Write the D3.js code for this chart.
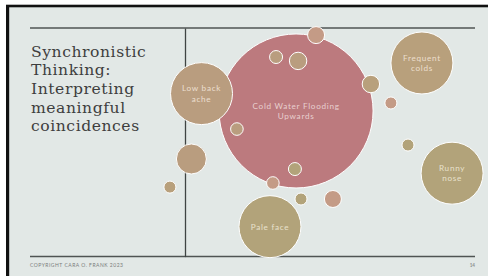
<!DOCTYPE html>
<html>
<head>
<meta charset="utf-8">
<script src="https://cdn.jsdelivr.net/npm/d3@7"></script>
<style>
  html, body { margin: 0; padding: 0; background: #ffffff; }
  svg { display: block; }
</style>
</head>
<body>
<svg id="chart" width="488" height="276"></svg>
<script>
// ---- Data ----
const titleLines = ["Synchronistic", "Thinking:", "Interpreting", "meaningful", "coincidences"];
const footerText = "COPYRIGHT CARA O. FRANK 2023";
const pageNumber = "14";

const bubbleLabels = [
  "Cold Water Flooding\nUpwards", "Low back\nache", "Frequent\ncolds", "Runny\nnose", "Pale face",
  "", "", "", "", "", "", "", "", "", "", "", "", ""
];
const xValues = [38.3, 5.7, 81.7, 92.1, 29.3,
  45.2, 31.4, 39.0, 64.1, 71.0, 17.9, 2.2, -5.2, 37.9, 30.3, 40.0, 51.0, 76.9];
const yValues = [63.7, 71.3, 84.7, 36.5, 13.1,
  96.9, 87.3, 85.6, 75.5, 67.2, 55.8, 42.7, 30.4, 38.3, 32.2, 25.2, 25.2, 48.8];
const sizeValues = [100, 16.2, 16.2, 16.2, 16.2,
  1.22, 0.71, 1.28, 1.28, 0.61, 0.67, 3.8, 0.61, 0.71, 0.67, 0.61, 1.22, 0.61];
const groupValues = ["rose", "sand", "wheat", "olive", "olive",
  "blush", "sand", "sand", "wheat", "blush", "sand", "sand", "wheat", "olive", "blush", "olive", "blush", "olive"];

const groupNames = ["rose", "sand", "wheat", "olive", "blush"];
const groupColors = ["#bc7a7e", "#b99d7f", "#b8a07c", "#b2a37a", "#c49b86"];
const labelColors = ["#e8cfcf", "#ecdfcf", "#ecdfcc", "#e8e1cc", "#ecdfcf"];

// ---- Build ----
const svg = d3.select("#chart");
const W = 488, H = 276;

// frame
svg.append("rect").attr("x", 0).attr("y", 0).attr("width", W).attr("height", H).attr("fill", "#ffffff");
svg.append("rect").attr("x", 6).attr("y", 4.7).attr("width", W - 6).attr("height", H - 4.7).attr("fill", "#111111");
svg.append("rect").attr("x", 9.2).attr("y", 7.3).attr("width", W - 9.2).attr("height", H - 7.3).attr("fill", "#e2e8e6");

const plot = { left: 185, right: 475, top: 28, bottom: 256.6 };

const x = d3.scaleLinear().domain([0, 100]).range([plot.left, plot.right]);
const y = d3.scaleLinear().domain([0, 100]).range([plot.bottom, plot.top]);
const r = d3.scaleSqrt().domain([0, 100]).range([0, 77]);
const color = d3.scaleOrdinal().domain(groupNames).range(groupColors);
const labelColor = d3.scaleOrdinal().domain(groupNames).range(labelColors);

// slide rules (top & bottom)
[plot.top, plot.bottom].forEach(yy => {
  svg.append("line")
    .attr("x1", 30).attr("x2", 475)
    .attr("y1", yy).attr("y2", yy)
    .attr("stroke", "#4f5453").attr("stroke-width", 1.5);
});

// vertical axis of the bubble chart
const yAxis = d3.axisLeft(y).tickValues([]).tickSize(0).tickSizeOuter(0);
const yAxisG = svg.append("g").attr("transform", `translate(${plot.left},0)`).call(yAxis);
yAxisG.select(".domain").attr("stroke", "#3f4443").attr("stroke-width", 1.3);

// title
const title = svg.append("text")
  .attr("font-family", "'DejaVu Serif', serif")
  .attr("font-size", 15.6)
  .attr("letter-spacing", 0.55)
  .attr("fill", "#3e3e3e");
titleLines.forEach((t, i) => {
  title.append("tspan").attr("x", 31).attr("y", 56.7 + i * 18.6).text(t);
});

// bubbles
const data = xValues.map((v, i) => ({
  x: v, y: yValues[i], size: sizeValues[i], group: groupValues[i], label: bubbleLabels[i]
})).sort((a, b) => b.size - a.size);

const g = svg.append("g");
const nodes = g.selectAll("g.bubble").data(data).join("g")
  .attr("class", "bubble")
  .attr("transform", d => `translate(${x(d.x)},${y(d.y)})`);

nodes.append("circle")
  .attr("r", d => r(d.size))
  .attr("fill", d => color(d.group))
  .attr("stroke", "#ffffff")
  .attr("stroke-width", 1);

nodes.filter(d => d.label).each(function(d) {
  const lines = d.label.split("\n");
  const t = d3.select(this).append("text")
    .attr("text-anchor", "middle")
    .attr("font-family", "Lato, 'Open Sans', sans-serif")
    .attr("font-size", 8.2)
    .attr("letter-spacing", 0.7)
    .attr("fill", labelColor(d.group));
  const lh = 10.5;
  lines.forEach((ln, i) => {
    t.append("tspan")
      .attr("x", 0)
      .attr("y", (i - (lines.length - 1) / 2) * lh)
      .attr("dy", "0.35em")
      .text(ln);
  });
});

// footer
svg.append("text")
  .attr("x", 30).attr("y", 266.5)
  .attr("font-family", "Lato, sans-serif")
  .attr("font-size", 5)
  .attr("letter-spacing", 0.5)
  .attr("fill", "#7a7d7c")
  .text(footerText);
svg.append("text")
  .attr("x", 475).attr("y", 266.5)
  .attr("text-anchor", "end")
  .attr("font-family", "Lato, sans-serif")
  .attr("font-weight", "bold")
  .attr("font-size", 4.6)
  .attr("fill", "#8a8d8c")
  .text(pageNumber);
</script>
</body>
</html>
